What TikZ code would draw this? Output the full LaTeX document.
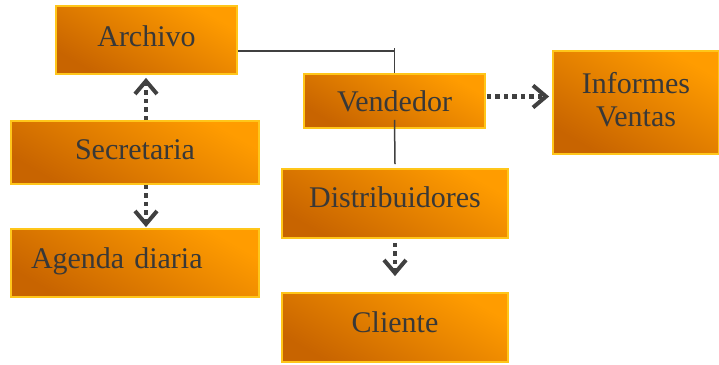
\documentclass[tikz,border=0pt]{standalone}
\usepackage{fontspec}
\setmainfont{Liberation Serif}
\usetikzlibrary{arrows.meta,calc}
\definecolor{boxdark}{HTML}{C86400}
\definecolor{boxbright}{HTML}{FF9C00}
\definecolor{boxedge}{HTML}{FFC61A}
\definecolor{txt}{HTML}{383838}
\definecolor{conn}{HTML}{404040}
\tikzset{
  obox/.style={draw=boxedge, line width=1.8pt, top color=boxbright, bottom color=boxdark,
    shading angle=-30, text=txt, inner sep=0pt, font=\fontsize{30}{33}\selectfont},
  tb/.style={text height=21pt, text depth=#1},
  darrow/.style={draw=conn, line width=4.5pt, dash pattern=on 4.5pt off 4pt,
    -{Straight Barb[length=13pt,width=22pt,line width=4pt]}},
  sline/.style={draw=conn, line width=1.5pt}
}
\begin{document}
\begin{tikzpicture}[x=1pt,y=-1pt]
\useasboundingbox (0,0) rectangle (719,364);
\node[obox, tb=9pt, minimum width=181pt, minimum height=68pt] (archivo) at (146.5,40) {Archivo};
\node[obox, tb=8pt, minimum width=248pt, minimum height=63pt] (secretaria) at (135,152.5) {Secretaria};
\node[obox, tb=11pt, minimum width=248pt, minimum height=68pt, text width=208pt, align=left, inner xsep=20pt] (agenda) at (135,263) {Agenda diaria};
\node[obox, minimum width=181pt, minimum height=54pt] (vendedor) at (394.5,101) {Vendedor};
\node[obox, minimum width=166pt, minimum height=103pt, align=center] (informes) at (636,102.5) {\raisebox{6pt}{Informes}\\\raisebox{6pt}{Ventas}};
\node[obox, tb=14pt, minimum width=226pt, minimum height=69pt] (distrib) at (395,203.5) {Distribuidores};
\node[obox, tb=12pt, minimum width=226pt, minimum height=69pt] (cliente) at (395,327.5) {Cliente};
% solid connectors
\coordinate (corner) at (vendedor.north |- 0,51);
\draw[sline] ($(archivo.east)+(0,11)$) -- (corner);
\draw[sline] ($(corner)+(0,-3)$) -- (vendedor.north);
\draw[sline] ($(vendedor.south)+(0,-9)$) -- ($(distrib.north)+(0,-4)$);
% dotted arrows
\draw[darrow] (secretaria.north -| 146,0) -- ($(archivo.south -| 146,0)+(0,3)$);
\draw[darrow] (secretaria.south -| 146,0) -- ($(agenda.north -| 146,0)+(0,-1)$);
\draw[darrow] ($(distrib.south)+(0,4)$) -- ($(cliente.north)+(0,-16)$);
\draw[darrow] ($(vendedor.east)+(1,-4.5)$) -- ($(informes.west |- 0,96.5)+(-3,0)$);
\end{tikzpicture}
\end{document}
